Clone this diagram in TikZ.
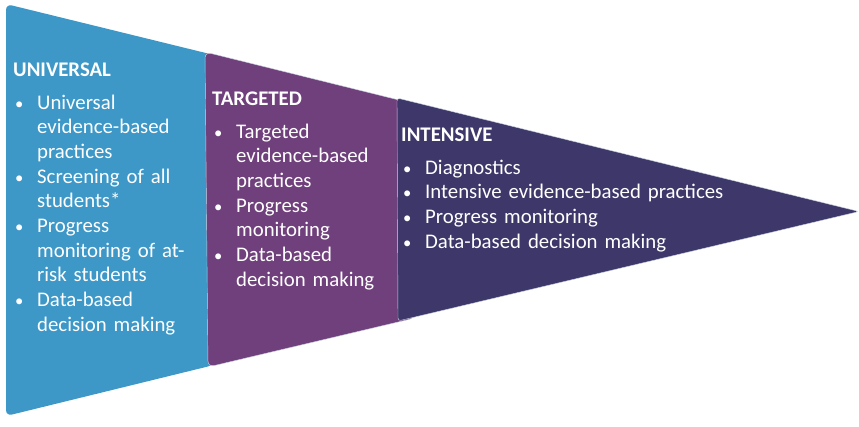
\documentclass[tikz,border=0pt]{standalone}
\usepackage{fontspec}
\setmainfont{Carlito}
\usetikzlibrary{positioning}
\definecolor{univblue}{RGB}{61,152,200}
\definecolor{targpurple}{RGB}{112,64,124}
\definecolor{intnavy}{RGB}{62,56,106}
\definecolor{tieredge}{RGB}{205,215,230}
\newcommand{\tiertitle}[1]{\textbf{#1}\par\vspace{7.5pt}}
\newcommand{\tieritem}[1]{\par\hangindent=24pt\hangafter=1\noindent\makebox[24pt][l]{\hspace{2pt}\scalebox{0.8}{\textbullet}}#1\par}
\tikzset{
tier/.style={
  fill=#1,
  draw=tieredge,
  line width=0.4pt,
  rounded corners=6pt
  },
tiertext/.style={
  anchor=north west,
  inner sep=0pt,
  text=white,
  text width=#1,
  align=left,
  font=\fontsize{20.8}{24.7}\selectfont
  }
}
\begin{document}
\begin{tikzpicture}[x=1pt, y=-1pt]
\useasboundingbox (0,0) rectangle (859,426);
% tiers, back to front
\draw[tier=univblue, draw=none] (6,4) -- (214,55) -- (214,365) -- (6,416) -- cycle;
\draw[tier=targpurple] (205,52) -- (415,104) -- (415,318) -- (208,367) -- cycle;
\draw[tier=intnavy, rounded corners=3pt] (397,98) -- (859,211.5) -- (398,321) -- cycle;
% texts
\node[tiertext=200pt] (universal) at (13,63) {\tiertitle{UNIVERSAL}
  \tieritem{Universal\newline evidence-based\newline practices}
  \tieritem{Screening of all\newline students*}
  \tieritem{Progress\newline monitoring of at-\newline risk students}
  \tieritem{Data-based\newline decision making}};
\node[tiertext=180pt] (targeted) at (212,92) {\tiertitle{TARGETED}
  \tieritem{Targeted\newline evidence-based\newline practices}
  \tieritem{Progress\newline monitoring}
  \tieritem{Data-based\newline decision making}};
\node[tiertext=340pt] (intensive) at (401,128) {\tiertitle{INTENSIVE}
  \tieritem{Diagnostics}
  \tieritem{Intensive evidence-based practices}
  \tieritem{Progress monitoring}
  \tieritem{Data-based decision making}};
\end{tikzpicture}
\end{document}
